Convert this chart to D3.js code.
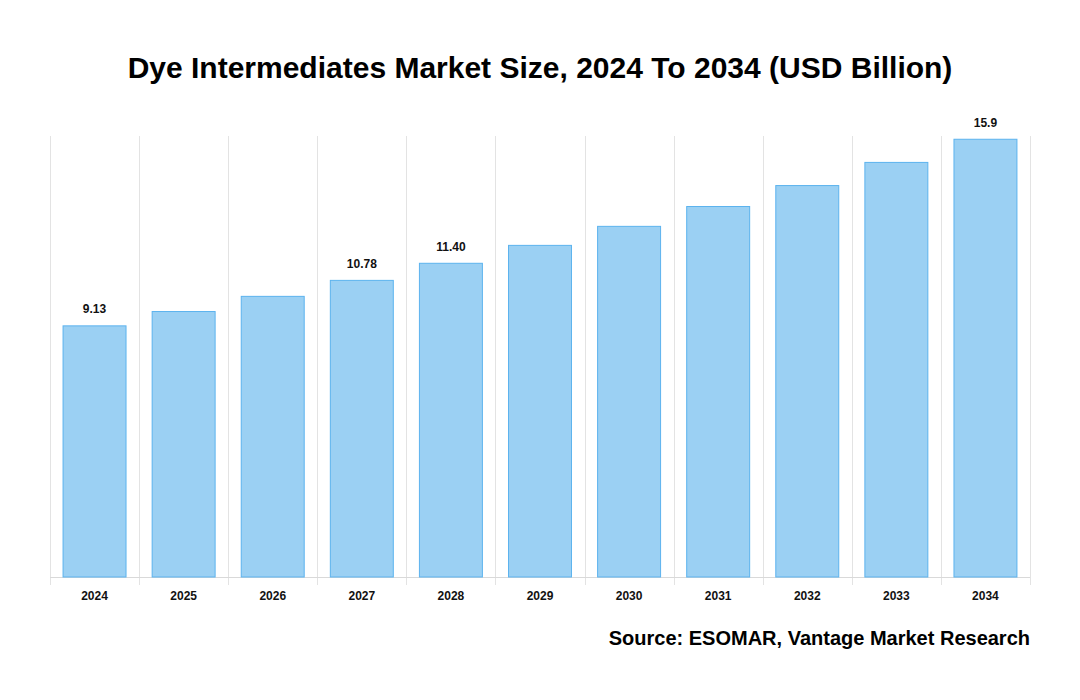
<!DOCTYPE html>
<html><head><meta charset="utf-8">
<script src="https://cdn.jsdelivr.net/npm/d3@7"></script>
<style>body{margin:0;background:#fff;font-family:"Liberation Sans",Arial,sans-serif;}</style>
</head><body><svg id="c" width="1080" height="700"></svg>
<script>
const years = ["2024","2025","2026","2027","2028","2029","2030","2031","2032","2033","2034"];
const values = [9.13, 9.65, 10.2, 10.78, 11.40, 12.05, 12.74, 13.46, 14.22, 15.06, 15.9];
const labels = ["9.13", "", "", "10.78", "11.40", "", "", "", "", "", "15.9"];

(function () {
const svg = d3.select("#c");
const pL = 50, pR = 1030, pT = 136, pB = 577;
const pi = 0.282;
const x = d3.scaleBand().domain(years).range([pL, pR]).paddingInner(pi).paddingOuter(pi/2);
const y = d3.scaleLinear().domain([0, 16]).range([pB, pT]);
const step = x.step();

svg.append("text").attr("x", 540).attr("y", 78).attr("text-anchor", "middle")
  .attr("font-size", 30).attr("font-weight", "bold").attr("fill", "#000")
  .text("Dye Intermediates Market Size, 2024 To 2034 (USD Billion)");

const gx = d3.range(years.length + 1).map(i => pL + i * step);
svg.append("g").selectAll("line").data(gx).join("line")
  .attr("x1", d => Math.round(d) + 0.5).attr("x2", d => Math.round(d) + 0.5)
  .attr("y1", pT).attr("y2", pB + 8)
  .attr("stroke", "#e3e3e3").attr("stroke-width", 1);

svg.append("line").attr("x1", pL).attr("x2", pR).attr("y1", pB + 0.5).attr("y2", pB + 0.5)
  .attr("stroke", "#d9d9d9");

svg.append("g").selectAll("rect").data(values).join("rect")
  .attr("x", (d, i) => x(years[i]) + 0.5)
  .attr("y", d => y(d) + 0.5)
  .attr("width", x.bandwidth() - 1)
  .attr("height", d => pB - y(d) - 0.5)
  .attr("fill", "#9bd0f3").attr("stroke", "#5cb3ee").attr("stroke-width", 1);

svg.append("g").selectAll("text").data(values).join("text")
  .attr("x", (d, i) => x(years[i]) + x.bandwidth() / 2)
  .attr("y", d => y(d) - 12)
  .attr("text-anchor", "middle").attr("font-size", 12).attr("font-weight", "bold").attr("fill", "#111")
  .text((d, i) => labels[i]);

svg.append("g").selectAll("text").data(years).join("text")
  .attr("x", d => x(d) + x.bandwidth() / 2)
  .attr("y", 600)
  .attr("text-anchor", "middle").attr("font-size", 12).attr("font-weight", "bold").attr("fill", "#111")
  .text(d => d);

svg.append("text").attr("x", 1030).attr("y", 645).attr("text-anchor", "end")
  .attr("font-size", 20).attr("font-weight", "bold").attr("fill", "#000")
  .text("Source: ESOMAR, Vantage Market Research");
})();
</script></body></html>
